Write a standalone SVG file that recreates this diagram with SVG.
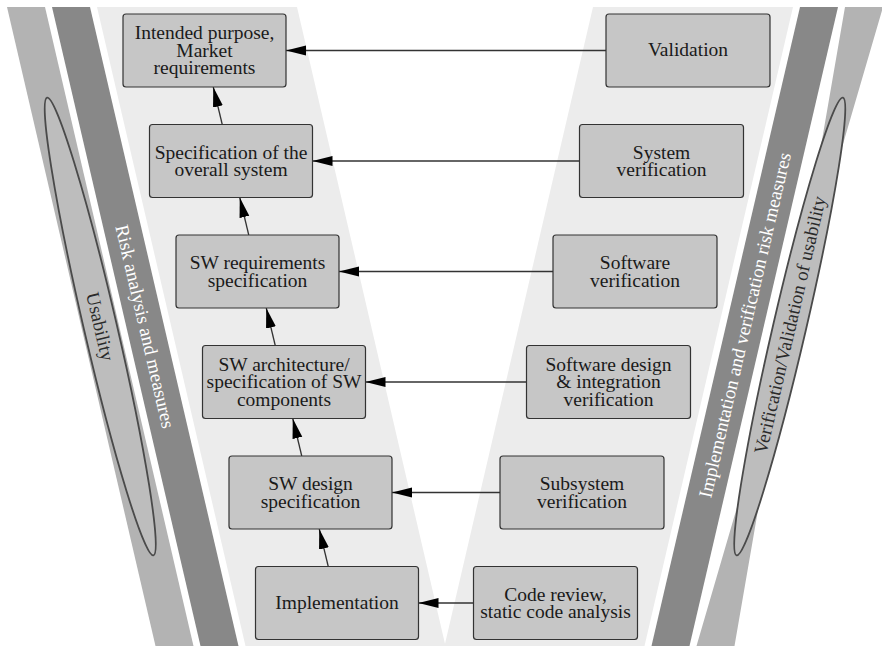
<svg xmlns="http://www.w3.org/2000/svg" width="882" height="646" viewBox="0 0 882 646">
<defs>
<style>
.bg{fill:#ececec}
.dark{fill:#888888}
.outer{fill:#b3b3b3}
.ell{fill:#bdbdbd;stroke:#4a4a4a;stroke-width:1.8}
.box{fill:#c6c6c6;stroke:#333;stroke-width:1.2}
.t{font-family:"Liberation Serif","Times New Roman",serif;font-size:19.5px;fill:#1a1a1a;text-anchor:middle}
.tw{font-family:"Liberation Serif","Times New Roman",serif;font-size:19px;fill:#ffffff;text-anchor:middle}
.td{font-family:"Liberation Serif","Times New Roman",serif;font-size:19px;fill:#2a2a2a;text-anchor:middle}
.c{stroke:#333;stroke-width:1.3;fill:none;marker-end:url(#ah)}
</style>
<marker id="ah" markerUnits="userSpaceOnUse" markerWidth="22" markerHeight="12" refX="20" refY="5" orient="auto">
<path d="M0,0 L20,5 L0,10 z" fill="#000"/>
</marker>
</defs>

<g id="bands">
<polygon class="outer" points="7,7 45,7 193.5,646 155.5,646"/>
<polygon class="dark" points="52,7 90,7 238.5,646 200.5,646"/>
<polygon class="bg" points="97,7 297,7 445.5,646 245.5,646"/>
<polygon class="bg" points="793,7 593,7 444.5,646 644.5,646"/>
<polygon class="dark" points="838,7 800,7 651.5,646 689.5,646"/>
<polygon class="outer" points="883,7 845,7 734.5,646 696.5,646"/>
</g>

<g id="usability-left">
<ellipse class="ell" cx="0" cy="0" rx="16.5" ry="235" transform="translate(100.25,326.5) rotate(-13.08)"/>
<text class="td" transform="translate(100.25,326.5) rotate(76.92)" y="6.5">Usability</text>
</g>
<g id="risk-left">
<text class="tw" transform="translate(145.25,326.5) rotate(76.92)" y="6.5">Risk analysis and measures</text>
</g>
<g id="risk-right">
<text class="tw" transform="translate(744.75,325) rotate(-76.92)" y="6.5">Implementation and verification risk measures</text>
</g>
<g id="usability-right">
<ellipse class="ell" cx="0" cy="0" rx="16.5" ry="235" transform="translate(789.75,326.5) rotate(13.08)"/>
<text class="td" transform="translate(789.75,325) rotate(-76.92)" y="6.5">Verification/Validation of usability</text>
</g>

<g id="connectors">
<line class="c" x1="606" y1="50.5" x2="286" y2="50.5"/>
<line class="c" x1="579.5" y1="161" x2="312.5" y2="161"/>
<line class="c" x1="553" y1="271.5" x2="339" y2="271.5"/>
<line class="c" x1="526.5" y1="382" x2="365.5" y2="382"/>
<line class="c" x1="500" y1="492.5" x2="392" y2="492.5"/>
<line class="c" x1="473.5" y1="603" x2="418.5" y2="603"/>
<line class="c" x1="222.25" y1="124.5" x2="213.25" y2="87"/>
<line class="c" x1="248.75" y1="235" x2="239.75" y2="197.5"/>
<line class="c" x1="275.25" y1="345.5" x2="266.25" y2="308"/>
<line class="c" x1="301.75" y1="456" x2="292.75" y2="418.5"/>
<line class="c" x1="328.25" y1="566.5" x2="319.25" y2="529"/>
</g>

<g id="n-intended">
<rect class="box" x="123" y="14" width="163" height="73" rx="3"/>
<text class="t" x="204.5" y="39">Intended purpose,<tspan x="204.5" dy="17.5">Market</tspan><tspan x="204.5" dy="17.5">requirements</tspan></text>
</g>
<g id="n-spec-system">
<rect class="box" x="149.5" y="124.5" width="163" height="73" rx="3"/>
<text class="t" x="231" y="158.5">Specification of the<tspan x="231" dy="17.5">overall system</tspan></text>
</g>
<g id="n-sw-req">
<rect class="box" x="176" y="235" width="163" height="73" rx="3"/>
<text class="t" x="257.5" y="269">SW requirements<tspan x="257.5" dy="17.5">specification</tspan></text>
</g>
<g id="n-sw-arch">
<rect class="box" x="202.5" y="345.5" width="163" height="73" rx="3"/>
<text class="t" x="284" y="370.5">SW architecture/<tspan x="284" dy="17.5">specification of SW</tspan><tspan x="284" dy="17.5">components</tspan></text>
</g>
<g id="n-sw-design">
<rect class="box" x="229" y="456" width="163" height="73" rx="3"/>
<text class="t" x="310.5" y="490">SW design<tspan x="310.5" dy="17.5">specification</tspan></text>
</g>
<g id="n-impl">
<rect class="box" x="255.5" y="566.5" width="163" height="73" rx="3"/>
<text class="t" x="337" y="609">Implementation</text>
</g>

<g id="n-validation">
<rect class="box" x="606" y="14" width="164" height="73" rx="3"/>
<text class="t" x="688" y="56">Validation</text>
</g>
<g id="n-system-ver">
<rect class="box" x="579.5" y="124.5" width="164" height="73" rx="3"/>
<text class="t" x="661.5" y="158.5">System<tspan x="661.5" dy="17.5">verification</tspan></text>
</g>
<g id="n-software-ver">
<rect class="box" x="553" y="235" width="164" height="73" rx="3"/>
<text class="t" x="635" y="269">Software<tspan x="635" dy="17.5">verification</tspan></text>
</g>
<g id="n-design-int-ver">
<rect class="box" x="526.5" y="345.5" width="164" height="73" rx="3"/>
<text class="t" x="608.5" y="370.5">Software design<tspan x="608.5" dy="17.5">&amp; integration</tspan><tspan x="608.5" dy="17.5">verification</tspan></text>
</g>
<g id="n-subsystem-ver">
<rect class="box" x="500" y="456" width="164" height="73" rx="3"/>
<text class="t" x="582" y="490">Subsystem<tspan x="582" dy="17.5">verification</tspan></text>
</g>
<g id="n-code-review">
<rect class="box" x="473.5" y="566.5" width="164" height="73" rx="3"/>
<text class="t" x="555.5" y="600.5">Code review,<tspan x="555.5" dy="17.5">static code analysis</tspan></text>
</g>
</svg>
